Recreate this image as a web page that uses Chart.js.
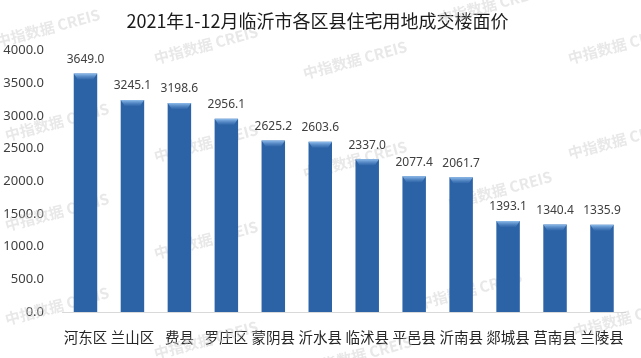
<!DOCTYPE html>
<html>
<head>
<meta charset="utf-8">
<script src="https://cdn.jsdelivr.net/npm/chart.js@4.4.1/dist/chart.umd.min.js"></script>
<style>
html,body{margin:0;padding:0;background:#fff;}
#wrap{width:641px;height:358px;position:relative;}
</style>
</head>
<body>
<div id="wrap"><canvas id="c" width="641" height="358"></canvas></div>
<script>
const titleText = "2021年1-12月临沂市各区县住宅用地成交楼面价";
const categories = ["河东区","兰山区","费县","罗庄区","蒙阴县","沂水县","临沭县","平邑县","沂南县","郯城县","莒南县","兰陵县"];
const prices = [3649.0, 3245.1, 3198.6, 2956.1, 2625.2, 2603.6, 2337.0, 2077.4, 2061.7, 1393.1, 1340.4, 1335.9];
const yTicks = [0, 500, 1000, 1500, 2000, 2500, 3000, 3500, 4000];
const watermarkText = "中指数据 CREIS";
const watermarkSpots = [[48,28],[57,122],[57,212],[57,306],[206,45],[206,143],[206,240],[206,340],[355,60],[355,160],[360,355],[490,5],[470,290],[500,190],[620,45],[625,318],[620,140]];

const CJK = '"Noto Sans CJK SC","Noto Sans",sans-serif';

function barGradient(ctx) {
  const chart = ctx.chart;
  if (!chart.chartArea || ctx.dataIndex === undefined) return '#2c63a6';
  const meta = chart.getDatasetMeta(ctx.datasetIndex);
  const el = meta.data[ctx.dataIndex];
  if (!el || !isFinite(el.x) || !isFinite(el.width) || el.width <= 0) return '#2c63a6';
  const x0 = el.x - el.width / 2, x1 = el.x + el.width / 2;
  const g = chart.ctx.createLinearGradient(x0, 0, x1, 0);
  g.addColorStop(0, '#1c4275');
  g.addColorStop(0.18, '#2a5d9c');
  g.addColorStop(0.5, '#3470b8');
  g.addColorStop(0.82, '#2a5d9c');
  g.addColorStop(1, '#1a3c6c');
  return g;
}

const watermarkPlugin = {
  id: 'watermark',
  beforeDatasetsDraw(chart) {
    const c = chart.ctx;
    c.save();
    c.fillStyle = 'rgba(205,205,205,0.45)';
    c.font = 'bold 15px ' + CJK;
    c.textAlign = 'center';
    c.textBaseline = 'middle';
    watermarkSpots.forEach(p => {
      c.save();
      c.translate(p[0], p[1]);
      c.rotate(-15 * Math.PI / 180);
      c.fillText(watermarkText, 0, 0);
      c.restore();
    });
    c.restore();
  }
};

const bevelAndLabels = {
  id: 'bevelLabels',
  afterDatasetsDraw(chart) {
    const c = chart.ctx;
    const meta = chart.getDatasetMeta(0);
    c.save();
    meta.data.forEach((el, i) => {
      const x0 = el.x - el.width / 2, x1 = el.x + el.width / 2, top = el.y;
      const g = c.createLinearGradient(0, top, 0, top + 7);
      g.addColorStop(0, 'rgba(150,195,240,0.95)');
      g.addColorStop(1, 'rgba(90,140,205,0.0)');
      c.fillStyle = g;
      c.beginPath();
      c.moveTo(x0, top);
      c.lineTo(x1, top);
      c.lineTo(x1 - 4, top + 6);
      c.lineTo(x0 + 4, top + 6);
      c.closePath();
      c.fill();
      c.fillStyle = '#404040';
      c.font = '12px "Noto Sans",sans-serif';
      c.textAlign = 'center';
      c.textBaseline = 'bottom';
      c.fillText(prices[i].toFixed(1), el.x, top - 8);
    });
    c.restore();
  }
};

new Chart(document.getElementById('c'), {
  type: 'bar',
  data: {
    labels: categories,
    datasets: [{
      data: prices,
      backgroundColor: barGradient,
      borderWidth: 0,
      barPercentage: 0.5,
      categoryPercentage: 1.0
    }]
  },
  options: {
    responsive: false,
    animation: false,
    devicePixelRatio: 1,
    layout: { padding: { top: 0, right: 6, bottom: 0, left: 0 } },
    plugins: {
      legend: { display: false },
      tooltip: { enabled: false },
      title: {
        display: true,
        text: titleText,
        color: '#1a1a1a',
        font: { family: CJK, size: 18, weight: 'normal' },
        padding: { top: 10, bottom: 19 }
      }
    },
    scales: {
      x: {
        grid: { display: false, drawTicks: false },
        border: { display: true, color: '#d9d9d9', width: 1 },
        ticks: { color: '#262626', font: { family: CJK, size: 14.5 }, padding: 17, maxRotation: 0, autoSkip: false },
        afterFit(s) { s.height = 46; }
      },
      y: {
        min: 0, max: 4000,
        grid: { display: false, drawTicks: false },
        border: { display: false },
        afterBuildTicks(s) { s.ticks = yTicks.map(v => ({ value: v })); },
        ticks: {
          color: '#404040',
          font: { family: '"Noto Sans",sans-serif', size: 13 },
          padding: 18,
          callback: v => Number(v).toFixed(1)
        },
        afterFit(s) { s.width = 62; }
      }
    }
  },
  plugins: [watermarkPlugin, bevelAndLabels]
});
</script>
</body>
</html>
